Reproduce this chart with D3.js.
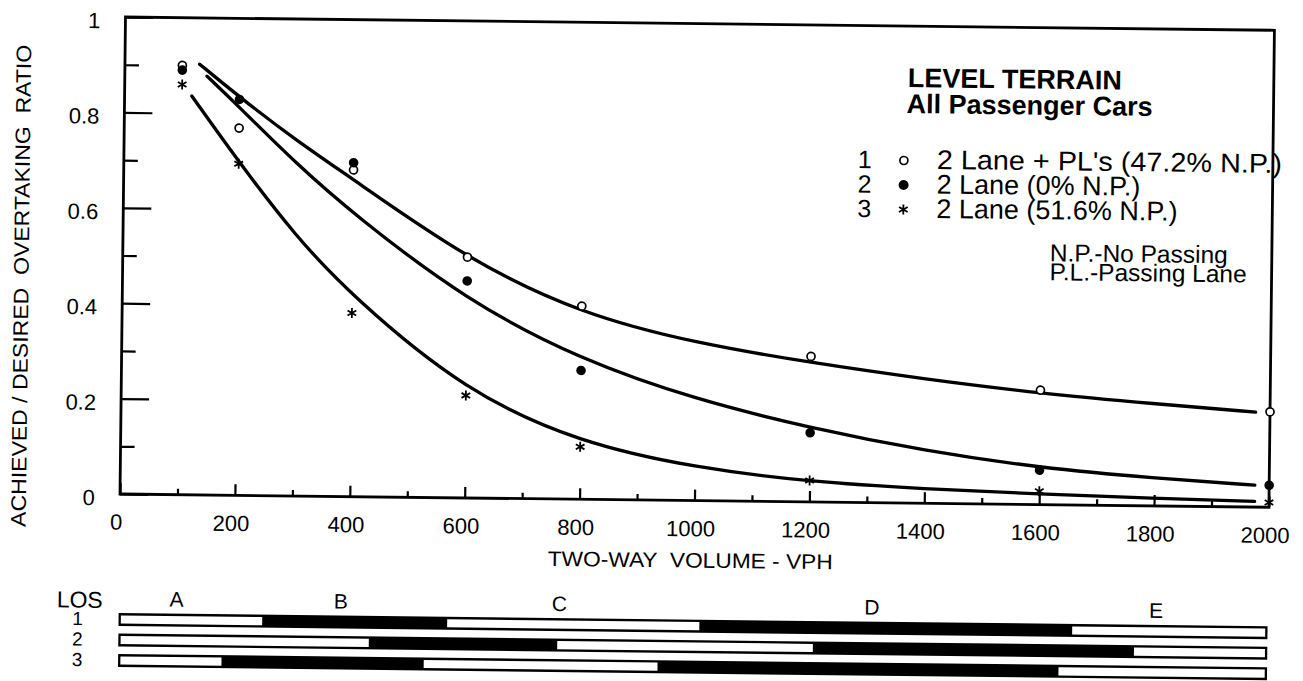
<!DOCTYPE html>
<html>
<head>
<meta charset="UTF-8">
<title>LEVEL TERRAIN - Achieved / Desired Overtaking Ratio</title>
<script src="https://cdn.jsdelivr.net/npm/d3@7"></script>
<style>
  body { margin: 0; background: #fff; }
  svg { display: block; font-family: "Liberation Sans", Arial, Helvetica, sans-serif; }
</style>
</head>
<body>
<svg width="1303" height="681"></svg>
<script>
// observed points (two-way volume, vph)
var volumes = [100, 200, 400, 600, 800, 1200, 1600, 2000];
var ratioPL = [0.90, 0.77, 0.685, 0.505, 0.405, 0.305, 0.24, 0.20];   // 1: 2 lane + PL's
var ratio0 = [0.89, 0.83, 0.70, 0.455, 0.27, 0.145, 0.072, 0.046];     // 2: 0% NP
var ratio516 = [0.86, 0.695, 0.385, 0.215, 0.11, 0.045, 0.028, 0.01];  // 3: 51.6% NP

// fitted curves
var fitVol1 = [130, 200, 300, 400, 600, 800, 1000, 1200, 1400, 1600, 1800, 1975];
var fitPL = [0.903, 0.835, 0.745, 0.665, 0.5, 0.388, 0.33, 0.292, 0.26, 0.233, 0.214, 0.199];
var fitVol2 = [143, 200, 300, 400, 600, 800, 1000, 1200, 1400, 1600, 1800, 1975];
var fit0 = [0.878, 0.814, 0.697, 0.593, 0.413, 0.292, 0.212, 0.155, 0.11, 0.077, 0.058, 0.046];
var fitVol3 = [117, 200, 300, 400, 600, 800, 1000, 1200, 1400, 1600, 1800, 1975];
var fit516 = [0.836, 0.699, 0.545, 0.42, 0.222, 0.118, 0.069, 0.042, 0.03, 0.022, 0.016, 0.012];

var seriesNames = ["2 Lane + PL's (47.2% N.P.)", "2 Lane (0% N.P.)", "2 Lane (51.6% N.P.)"];

var yTicks = [0, 0.2, 0.4, 0.6, 0.8, 1];
var yMinor = [0.1, 0.3, 0.5, 0.7, 0.9];
var xTicks = [0, 200, 400, 600, 800, 1000, 1200, 1400, 1600, 1800, 2000];
var xMinor = [100, 300, 500, 700, 900, 1100, 1300, 1500, 1700, 1900];

// level of service bands (volume where each LOS starts/ends)
var losLetters = ["A", "B", "C", "D", "E"];
var losRows = ["1", "2", "3"];
var losBreaks = [
  [0, 250, 572, 1011, 1660, 2000],
  [0, 436, 764, 1209, 1768, 2000],
  [0, 180, 532, 939, 1637, 2000]
];

var svg = d3.select("svg");
// the page is a slightly tilted scan
var g = svg.append("g").attr("transform", "rotate(0.66,120,494)");

var x = d3.scaleLinear().domain([0, 2000]).range([120, 1269]);
var y = d3.scaleLinear().domain([0, 1]).range([494, 17]);

// axes
var yAxis = d3.axisLeft(y).tickValues(yTicks).tickSize(-28).tickPadding(25)
  .tickFormat(function(d){ return String(d); });
var yAxisMinor = d3.axisLeft(y).tickValues(yMinor).tickSize(-14).tickFormat("");
var xAxis = d3.axisBottom(x).tickValues(xTicks).tickSize(-11).tickPadding(20)
  .tickFormat(d3.format("d"));
var xAxisMinor = d3.axisBottom(x).tickValues(xMinor).tickSize(-6).tickFormat("");

var gy = g.append("g").attr("transform", "translate(120,0)").call(yAxis);
g.append("g").attr("transform", "translate(120,0)").call(yAxisMinor);
var gx = g.append("g").attr("transform", "translate(0,494)").call(xAxis);
g.append("g").attr("transform", "translate(0,494)").call(xAxisMinor);

g.selectAll(".domain").remove();
g.selectAll(".tick line").attr("stroke", "#000").attr("stroke-width", 2.2);
gy.selectAll("text").attr("font-size", 22).attr("dy", "0.5em").attr("fill", "#000")
  .attr("font-family", "Liberation Sans, Arial, sans-serif");
gx.selectAll("text").attr("font-size", 22).attr("dx", -4).attr("fill", "#000")
  .attr("font-family", "Liberation Sans, Arial, sans-serif");

// frame
g.append("rect")
  .attr("x", x(0)).attr("y", y(1))
  .attr("width", x(2000) - x(0)).attr("height", y(0) - y(1))
  .attr("fill", "none").attr("stroke", "#000").attr("stroke-width", 2.8);

// axis titles
g.append("text")
  .attr("transform", "translate(26,287) rotate(-90)")
  .attr("text-anchor", "middle")
  .attr("font-size", 21)
  .attr("textLength", 482).attr("lengthAdjust", "spacingAndGlyphs")
  .attr("xml:space", "preserve")
  .text("ACHIEVED / DESIRED  OVERTAKING  RATIO");

g.append("text")
  .attr("x", 691).attr("y", 561)
  .attr("text-anchor", "middle")
  .attr("font-size", 21)
  .attr("textLength", 285).attr("lengthAdjust", "spacingAndGlyphs")
  .attr("xml:space", "preserve")
  .text("TWO-WAY  VOLUME - VPH");

// fitted curves
var line = d3.line()
  .x(function(d){ return x(d[0]); })
  .y(function(d){ return y(d[1]); })
  .curve(d3.curveBasis);

[[fitVol1, fitPL], [fitVol2, fit0], [fitVol3, fit516]].forEach(function(c){
  g.append("path")
    .datum(d3.zip(c[0], c[1]))
    .attr("d", line)
    .attr("fill", "none")
    .attr("stroke", "#000")
    .attr("stroke-width", 3.3)
    .attr("stroke-linecap", "round");
});

// data points
var star = d3.symbol().type(d3.symbolAsterisk).size(70);

g.selectAll(".p1").data(d3.zip(volumes, ratioPL)).enter().append("circle")
  .attr("cx", function(d){ return x(d[0]); })
  .attr("cy", function(d){ return y(d[1]); })
  .attr("r", 4).attr("fill", "#fff").attr("stroke", "#000").attr("stroke-width", 1.7);

g.selectAll(".p2").data(d3.zip(volumes, ratio0)).enter().append("circle")
  .attr("cx", function(d){ return x(d[0]); })
  .attr("cy", function(d){ return y(d[1]); })
  .attr("r", 4.8).attr("fill", "#000");

g.selectAll(".p3").data(d3.zip(volumes, ratio516)).enter().append("path")
  .attr("transform", function(d){ return "translate(" + x(d[0]) + "," + y(d[1]) + ")"; })
  .attr("d", star)
  .attr("fill", "none").attr("stroke", "#000").attr("stroke-width", 1.8);

// legend
g.append("text").attr("x", 903).attr("y", 78)
  .attr("font-size", 27).attr("font-weight", "bold").text("LEVEL TERRAIN");
g.append("text").attr("x", 902).attr("y", 104)
  .attr("font-size", 27).attr("font-weight", "bold").text("All Passenger Cars");

var rowY = [159.5, 184, 208.5];
var leg = g.selectAll(".leg").data(seriesNames).enter().append("g");
leg.append("text")
  .attr("x", 861).attr("y", function(d, i){ return rowY[i]; })
  .attr("text-anchor", "middle").attr("font-size", 25)
  .text(function(d, i){ return i + 1; });
leg.append("text")
  .attr("x", 933).attr("y", function(d, i){ return rowY[i]; })
  .attr("font-size", 27)
  .each(function(d, i){
    // first entry is set a little wider in the original
    if (i === 0) d3.select(this).attr("textLength", 345).attr("lengthAdjust", "spacingAndGlyphs");
  })
  .text(function(d){ return d; });

g.append("circle").attr("cx", 900).attr("cy", rowY[0] - 8).attr("r", 4)
  .attr("fill", "#fff").attr("stroke", "#000").attr("stroke-width", 1.7);
g.append("circle").attr("cx", 900).attr("cy", rowY[1] - 8).attr("r", 5).attr("fill", "#000");
g.append("path").attr("transform", "translate(900," + (rowY[2] - 8) + ")")
  .attr("d", star).attr("fill", "none").attr("stroke", "#000").attr("stroke-width", 1.8);

g.append("text").attr("x", 1047).attr("y", 250.5).attr("font-size", 24.5).text("N.P.-No Passing");
g.append("text").attr("x", 1047).attr("y", 269.5).attr("font-size", 24.5).text("P.L.-Passing Lane");

// level of service bars
var row = d3.scaleBand().domain(losRows).range([613, 667]).paddingInner(0.366);

g.append("text").attr("x", 58).attr("y", 608).attr("font-size", 23).text("LOS");
g.selectAll(".losnum").data(losRows).enter().append("text")
  .attr("x", 79).attr("y", function(d){ return row(d) + 12.5; })
  .attr("text-anchor", "middle").attr("font-size", 19)
  .text(function(d){ return d; });

g.selectAll(".loslet").data(losLetters).enter().append("text")
  .attr("x", function(d, i){ return (x(losBreaks[0][i]) + x(losBreaks[0][i + 1])) / 2 - 14; })
  .attr("y", 606)
  .attr("text-anchor", "middle").attr("font-size", 21)
  .text(function(d){ return d; });

losRows.forEach(function(r, k){
  var b = losBreaks[k];
  var top = row(r), h = row.bandwidth();
  g.append("rect")
    .attr("x", x(0)).attr("y", top)
    .attr("width", x(2000) - x(0)).attr("height", h)
    .attr("fill", "#000");
  for (var i = 0; i < b.length - 1; i += 2) {
    var x0 = x(b[i]) + (b[i] === 0 ? 2.3 : 0);
    var x1 = x(b[i + 1]) - (b[i + 1] === 2000 ? 2.3 : 0);
    g.append("rect")
      .attr("x", x0).attr("y", top + 2.4)
      .attr("width", x1 - x0).attr("height", h - 4.8)
      .attr("fill", "#fff");
  }
});
</script>
</body>
</html>
